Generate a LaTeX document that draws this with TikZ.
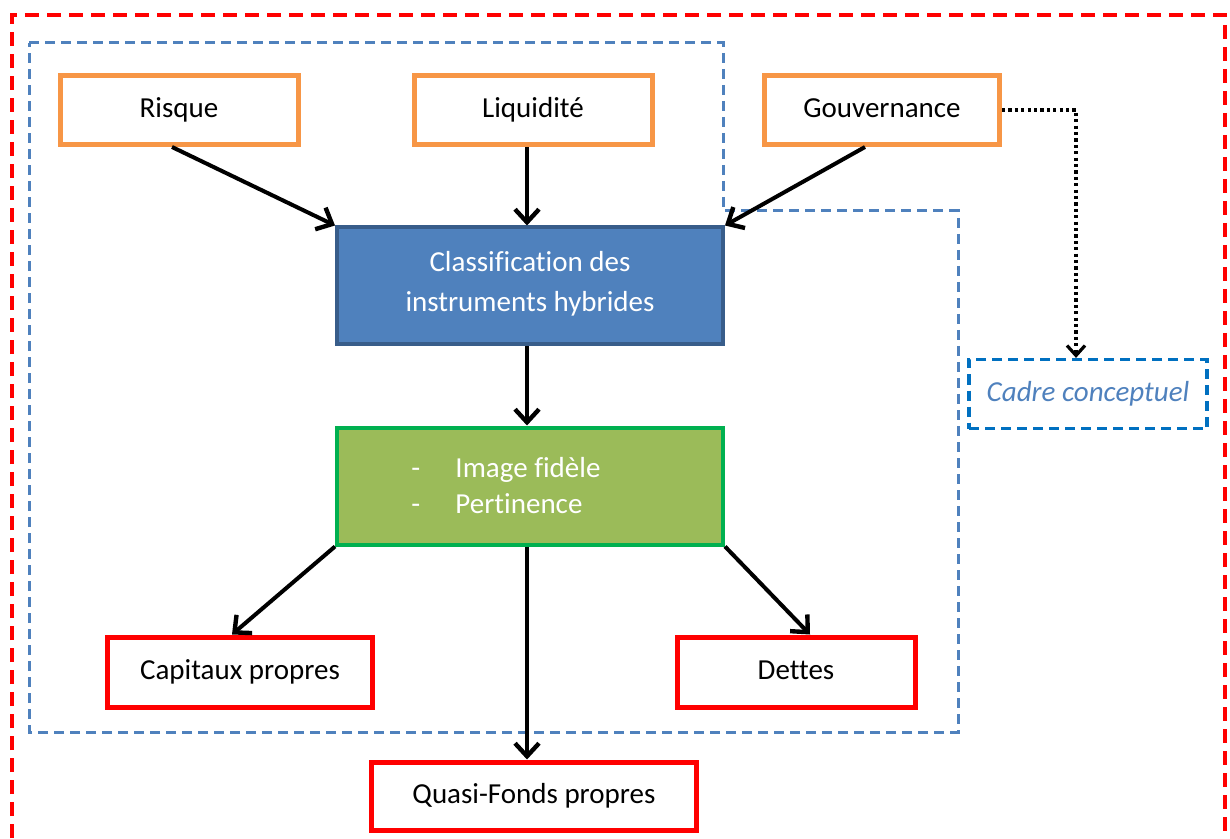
\documentclass[tikz,border=0pt]{standalone}
\usepackage{fontspec}
\setmainfont{Carlito}[Ligatures={NoCommon}]
\usetikzlibrary{arrows.meta,calc}
\definecolor{orangeb}{HTML}{F79646}
\definecolor{bluef}{HTML}{4F81BD}
\definecolor{blued}{HTML}{385D8A}
\definecolor{greenf}{HTML}{9BBB59}
\definecolor{greend}{HTML}{00B050}
\definecolor{redb}{HTML}{FF0000}
\definecolor{cadreb}{HTML}{0070C0}
\tikzset{
  factor/.style={draw=orangeb, line width=2.5pt, fill=white, minimum width=119pt, minimum height=34.5pt, font=\fontsize{14.5}{17}\selectfont, text=black, text depth=0.22em},
  outcome/.style={draw=redb, line width=2.5pt, fill=white, minimum height=35pt, font=\fontsize{14.5}{17}\selectfont, text=black, text depth=0.22em},
  classbox/.style={draw=blued, line width=2pt, fill=bluef, minimum width=193pt, minimum height=58.5pt, text=white, align=center, font=\fontsize{14.5}{20}\selectfont},
  critbox/.style={draw=greend, line width=2pt, fill=greenf, minimum width=193pt, minimum height=58.5pt, text=white, align=left, font=\fontsize{14.5}{18}\selectfont},
  cadrebox/.style={draw=cadreb, line width=1.6pt, dashed, dash pattern=on 5pt off 3pt, minimum width=119pt, minimum height=34.5pt, text=bluef, font=\fontsize{14.5}{17}\selectfont\itshape},
  flow/.style={draw=black, line width=2pt, -{Straight Barb[length=6.5pt,width=12pt,line width=2.2pt]}},
  dotflow/.style={draw=black, line width=1.6pt, dash pattern=on 1.6pt off 1.6pt, -{Straight Barb[length=5pt,width=9pt,line width=1.6pt]}}
}
\begin{document}
\begin{tikzpicture}[x=0.5pt,y=-0.5pt]
\useasboundingbox (0,0) rectangle (1230,839);
% outer red dashed frame
\draw[redb, line width=2pt, dash pattern=on 7pt off 4pt] (12,860) -- (12,15) -- (1225,15) -- (1225,860);
% blue dashed region
\draw[bluef, line width=1.5pt, dash pattern=on 5pt off 3pt] (29,43) -- (723,43) -- (723,211) -- (958,211) -- (958,732) -- (29,732) -- cycle;

\node[factor] (risque) at (179,110) {Risque};
\node[factor] (liq) at (533,110) {Liquidité};
\node[factor, minimum width=117.5pt] (gouv) at (882,110) {Gouvernance};
\node[classbox] (class) at (530,286) {Classification des\\instruments hybrides\\[-15pt]\mbox{}};
\node[critbox] (crit) at (530,486) {\makebox[22pt][l]{-}Image fidèle\hspace*{24pt}\\\makebox[22pt][l]{-}Pertinence};
\node[outcome, minimum width=132.5pt] (cap) at (240,672) {Capitaux propres};
\node[outcome, minimum width=119pt] (dettes) at (796,672) {Dettes};
\node[outcome, minimum width=162.5pt, minimum height=34pt] (quasi) at (534,796) {Quasi-Fonds propres};
\node[cadrebox] (cadre) at (1088,394) {Cadre conceptuel};

\draw[flow] ([xshift=-3.5pt]risque.south) -- (class.north west);
\draw[flow] ([xshift=-3pt]liq.south) -- ([xshift=-3pt]liq.south |- class.north);
\draw[flow] ([xshift=-8.5pt]gouv.south) -- (class.north east);
\draw[flow] ([xshift=-1.5pt]class.south) -- ([xshift=-1.5pt]crit.north);
\draw[flow] (crit.south west) -- ([xshift=-4pt]cap.north);
\draw[flow] (crit.south east) -- ([xshift=7pt]dettes.north);
\draw[flow] ([xshift=-1.5pt]crit.south) -- ([xshift=-1.5pt]crit.south |- quasi.north);
\coordinate (cadretop) at ([xshift=-6pt]cadre.north);
\draw[dotflow] (gouv.east) -| (cadretop);
\end{tikzpicture}
\end{document}
